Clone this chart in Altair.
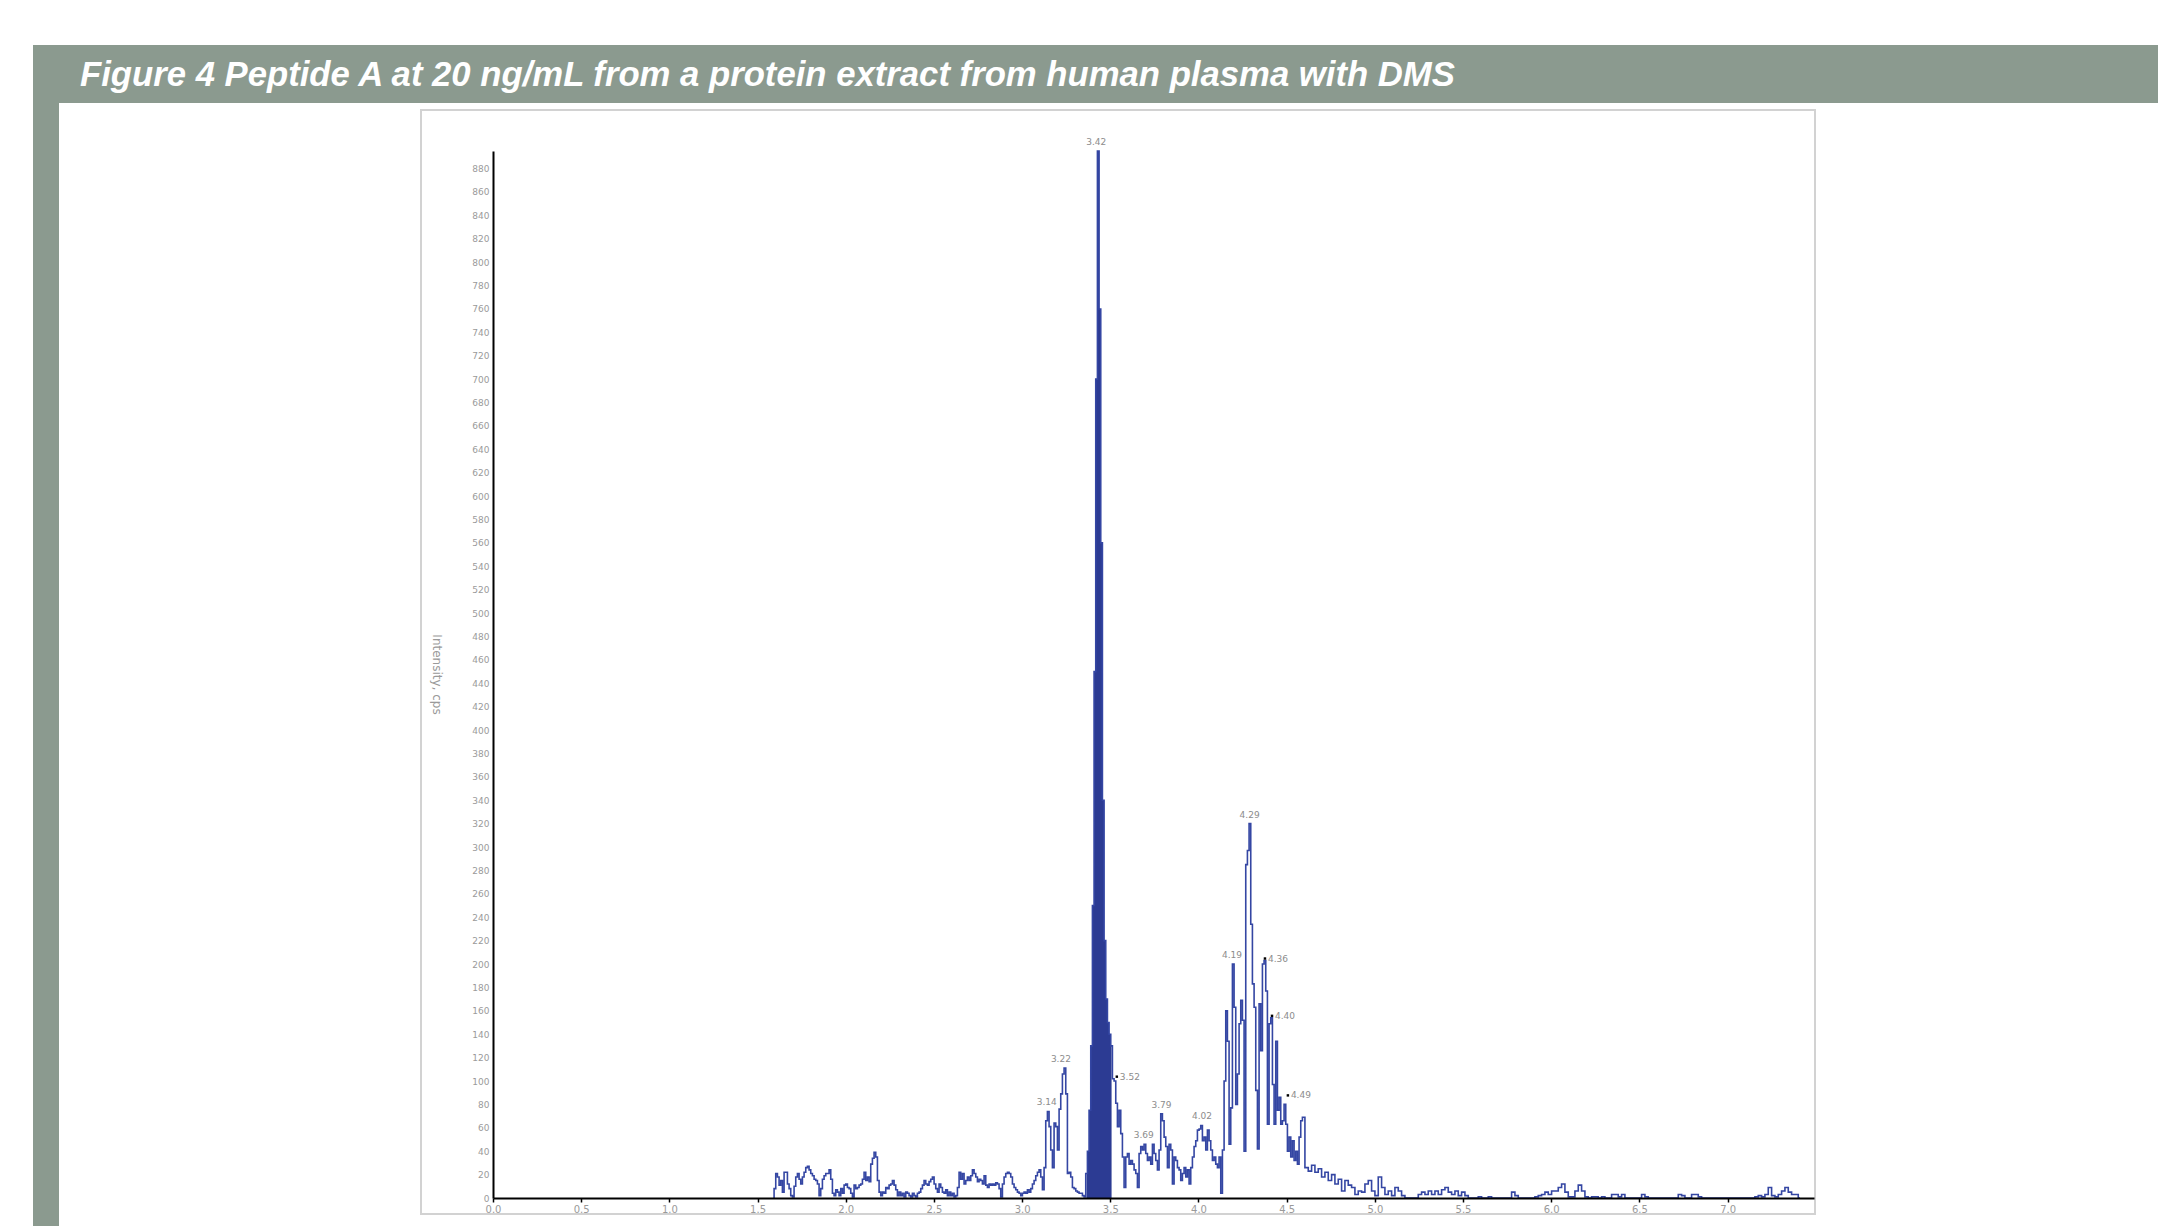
import altair as alt
import pandas as pd

# ---- chromatogram samples (extracted ion trace, intensity in cps) ----
RT_START = 1.589      # min, first sample of the main trace
RT_STEP = 0.00945     # min between samples
intensity_main = [
    # 1.59 - 3.12 min
    0, 8, 21, 18, 11, 15, 5, 22, 22, 12, 8, 2, 1, 10, 18, 21, 16, 12, 18, 22,
    26, 27, 24, 21, 19, 16, 15, 12, 2, 8, 16, 19, 21, 21, 24, 16, 4, 2, 7, 5,
    2, 8, 4, 11, 12, 9, 8, 4, 1, 11, 8, 9, 11, 12, 16, 22, 15, 18, 14, 29,
    34, 39, 35, 15, 5, 2, 5, 4, 9, 8, 11, 12, 15, 11, 7, 2, 5, 2, 4, 1,
    5, 4, 2, 1, 4, 2, 1, 4, 5, 8, 11, 15, 12, 11, 14, 16, 18, 12, 8, 5,
    12, 9, 5, 4, 7, 2, 5, 2, 4, 1, 2, 9, 22, 16, 21, 12, 15, 18, 15, 19,
    24, 21, 18, 14, 16, 15, 12, 19, 11, 9, 12, 11, 12, 11, 13, 12, 8, 1, 12, 18,
    21, 22, 21, 18, 12, 9, 7, 5, 4, 2, 4, 5, 4, 7, 5, 8, 12, 15, 19, 22,
    24, 18, 7,
    # 3.12 - 4.15 min
    26, 66, 74, 61, 41, 26, 64, 61, 41, 76, 89, 106, 111, 89, 21, 22, 18, 9, 8, 6,
    5, 4, 4, 2, 1, 21, 40, 75, 130, 250, 450, 700, 895, 760, 560, 340, 220, 170, 150, 140,
    130, 102, 100, 81, 61, 75, 55, 35, 9, 35, 38, 29, 32, 29, 24, 21, 9, 38, 44, 41,
    46, 38, 32, 35, 29, 46, 38, 32, 24, 41, 72, 66, 52, 44, 26, 46, 41, 12, 35, 32,
    26, 24, 15, 21, 26, 18, 24, 12, 26, 35, 44, 49, 58, 59, 62, 49, 52, 41, 58, 49,
    41, 32, 35, 29, 26, 35, 4, 41,
    # 4.15 - 4.59 min
    100, 160, 134, 46, 77, 200, 163, 80, 106, 149, 169, 152, 40, 285, 297, 320, 234, 183, 163, 92,
    42, 166, 126, 200, 203, 177, 63, 149, 154, 97, 63, 134, 75, 86, 63, 66, 80, 63, 40, 52,
    35, 49, 32, 40, 29, 52, 66, 69,
]

TAIL_START = 4.613    # min, late-eluting tail sampled every other scan
TAIL_STEP = 0.0189
intensity_tail = [
    26, 23, 28, 22, 25, 18, 22, 15, 20, 12, 16, 6, 15, 11, 9, 3, 6, 5, 12, 15,
    6, 2, 18, 9, 3, 6, 2, 9, 6, 2, 0, 0, 0, 0, 3, 5, 3, 6, 3, 6,
    3, 7, 9, 5, 3, 6, 2, 5, 2, 0, 0, 0, 1, 0, 0, 1, 0, 0, 0, 0,
    0, 0, 5, 2, 0, 0, 0, 0, 0, 1, 2, 3, 5, 3, 6, 6, 9, 12, 5, 1,
    1, 6, 11, 6, 1, 0, 1, 1, 0, 1, 0, 0, 3, 3, 1, 3, 0, 0, 0, 0,
    0, 3, 1, 0, 0, 0, 0, 0, 0, 0, 0, 0, 3, 2, 0, 0, 3, 3, 1, 0,
    0, 0, 0, 0, 0, 0, 0, 0, 0, 0, 0, 0, 0, 0, 0, 1, 2, 1, 3, 9,
    2, 1, 3, 6, 9, 5, 3, 3, 0,
]

# integrated (shaded) window of the main peak
FILL_FROM, FILL_TO = 3.36, 3.51

# annotated apexes: retention time, apex intensity, label style
peak_rt = [3.14, 3.22, 3.42, 3.52, 3.69, 3.79, 4.02, 4.19, 4.29, 4.36, 4.40, 4.49]
peak_top = [74, 111, 895, 102, 46, 72, 62, 200, 320, 203, 154, 86]
peak_marked = [False, False, False, True, False, False, False, False, False, True, True, True]

x_ticks = [0.0, 0.5, 1.0, 1.5, 2.0, 2.5, 3.0, 3.5, 4.0, 4.5, 5.0, 5.5, 6.0, 6.5, 7.0]
y_ticks = list(range(0, 881, 20))

TITLE = "Figure 4 Peptide A at 20 ng/mL from a protein extract from human plasma with DMS"

# ---- tables ----
rt = [round(RT_START + i * RT_STEP, 4) for i in range(len(intensity_main))]
rt += [round(TAIL_START + i * TAIL_STEP, 4) for i in range(len(intensity_tail))]
trace = pd.DataFrame({"rt": rt, "cps": intensity_main + intensity_tail})
peaks = pd.DataFrame({"rt": peak_rt, "cps": peak_top, "marked": peak_marked,
                      "label": [f"{v:.2f}" for v in peak_rt]})

W, H = 1321, 1047
BANNER = "#8b9a8f"
LINE = "#3446a3"
FILL = "#2c3b93"
TICK_GREY = "#9a9a9a"

x_scale = alt.Scale(domain=[0, 7.49], nice=False, zero=False)
y_scale = alt.Scale(domain=[0, 895], nice=False)

one = pd.DataFrame({"k": [0]})

# page decoration: banner, left stripe, chart frame, heading
banner = alt.Chart(one).mark_rect(color=BANNER).encode(
    x=alt.value(-460), x2=alt.value(1665), y=alt.value(-106), y2=alt.value(-48))
stripe = alt.Chart(one).mark_rect(color=BANNER).encode(
    x=alt.value(-460), x2=alt.value(-434), y=alt.value(-106), y2=alt.value(1075))
frame = alt.Chart(one).mark_rect(filled=False, stroke="#d2d2d2", strokeWidth=2).encode(
    x=alt.value(-72), x2=alt.value(1322), y=alt.value(-41), y2=alt.value(1063))
heading = alt.Chart(one).mark_text(
    text=TITLE, align="left", baseline="alphabetic", font="Liberation Sans",
    fontSize=34.7, fontStyle="italic", fontWeight="bold", color="white",
).encode(x=alt.value(-413), y=alt.value(-65))

x_axis = alt.Axis(
    values=x_ticks, format=".1f", title=None, grid=False, zindex=1,
    labelFlush=False, labelOverlap=False,
    domainColor="black", domainWidth=2, tickColor="black", tickSize=4, tickWidth=1.5,
    labelColor=TICK_GREY, labelFontSize=10, labelFont="DejaVu Sans", labelPadding=2)
y_axis = alt.Axis(
    values=y_ticks, title="Intensity, cps", grid=False, ticks=False, zindex=1,
    labelFlush=False, labelOverlap=False,
    domainColor="black", domainWidth=2,
    labelColor=TICK_GREY, labelFontSize=9, labelFont="DejaVu Sans", labelPadding=4,
    titleAngle=90, titleColor=TICK_GREY, titleFontSize=12, titleFont="DejaVu Sans",
    titleFontWeight="normal", titleX=-64, titleY=523)

x_enc = alt.X("rt:Q", scale=x_scale, axis=x_axis)
y_enc = alt.Y("cps:Q", scale=y_scale, axis=y_axis)

area = alt.Chart(trace).mark_area(color=FILL, interpolate="step", opacity=1).encode(
    x=x_enc, y=y_enc
).transform_filter(
    (alt.datum.rt >= FILL_FROM) & (alt.datum.rt <= FILL_TO))

line = alt.Chart(trace).mark_line(color=LINE, strokeWidth=1.6, interpolate="step").encode(
    x=x_enc, y=y_enc)

centred = alt.Chart(peaks).transform_filter(~alt.datum.marked).mark_text(
    align="center", baseline="bottom", dy=-4, fontSize=9, font="DejaVu Sans", color="#8c8c8c"
).encode(x=x_enc, y=y_enc, text="label:N")

side = alt.Chart(peaks).transform_filter(alt.datum.marked).mark_text(
    align="left", baseline="middle", dx=6, dy=-2, fontSize=9, font="DejaVu Sans", color="#8c8c8c"
).encode(x=x_enc, y=y_enc, text="label:N")

dots = alt.Chart(peaks).transform_filter(alt.datum.marked).mark_point(
    shape="square", size=6, filled=True, color="black", opacity=1, xOffset=3, yOffset=-2
).encode(x=x_enc, y=y_enc)

chart = alt.layer(
    banner, stripe, frame, heading, area, line, centred, side, dots
).properties(
    width=W, height=H,
    autosize=alt.AutoSizeParams(type="none"),
    padding={"left": 493, "top": 151, "right": 344, "bottom": 28},
    background="white",
).configure_view(stroke=None)

chart.save("out.html", embed_options={"renderer": "svg", "actions": False})
